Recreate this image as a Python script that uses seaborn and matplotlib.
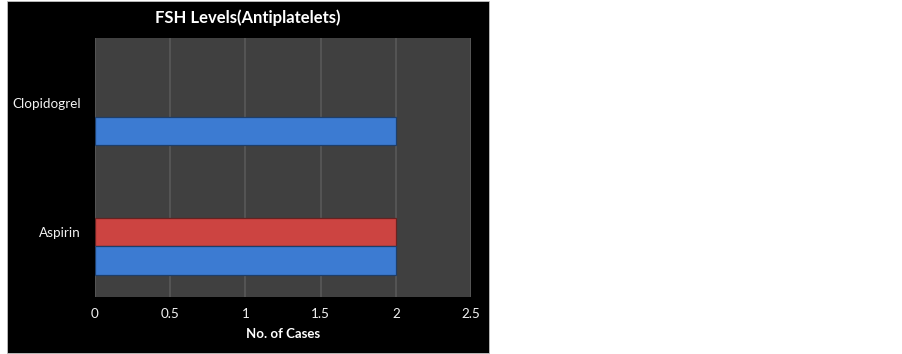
"""
FSH levels (antiplatelets) — horizontal grouped bar chart on a dark panel.
"""

import matplotlib
matplotlib.use("Agg")

import matplotlib.pyplot as plt
import pandas as pd
import seaborn as sns
from matplotlib.patches import Rectangle

# ---- data -----------------------------------------------------------------
drugs = ["Clopidogrel", "Aspirin"]
levels = ["High", "Low", "Normal"]          # top -> bottom inside each group
cases_high = [0, 0]
cases_low = [0, 2]
cases_normal = [2, 2]
x_ticks = [0, 0.5, 1, 1.5, 2, 2.5]
x_tick_labels = ["0", "0.5", "1", "1.5", "2", "2.5"]

level_colors = {"High": "#9bbb59", "Low": "#cc4441", "Normal": "#3c7bd2"}

df = pd.DataFrame({
    "drug": drugs * 3,
    "level": ["High"] * 2 + ["Low"] * 2 + ["Normal"] * 2,
    "cases": cases_high + cases_low + cases_normal,
})

# ---- style ----------------------------------------------------------------
sns.set_theme(style="dark")
plt.rcParams["font.family"] = ["Lato", "DejaVu Sans"]

fig = plt.figure(figsize=(9.03, 3.54), dpi=100)
fig.patch.set_facecolor("white")

# black chart panel on the left part of the image
fig.add_artist(Rectangle((7 / 903, 1 / 354), 482 / 903, 352 / 354,
                         transform=fig.transFigure, facecolor="black",
                         edgecolor="#bfbfbf", linewidth=0.6, zorder=0))

ax = fig.add_axes([95 / 903, 1 - 297 / 354, 376 / 903, 259 / 354])
ax.set_facecolor("#404040")

sns.barplot(
    data=df, x="cases", y="drug", hue="level",
    order=drugs, hue_order=levels, palette=level_colors,
    orient="h", width=0.66, gap=0, saturation=1, legend=False,
    edgecolor="#1f3f66", linewidth=0.9, ax=ax,
)

# drop zero-length bars and give edges a darker shade of their fill
for p in ax.patches:
    if p.get_width() == 0:
        p.set_visible(False)
    else:
        r, g, b, _ = p.get_facecolor()
        p.set_edgecolor((r * 0.5, g * 0.5, b * 0.5, 1))

ax.set_xlim(0, 2.5)
ax.set_xticks(x_ticks)
ax.set_xticklabels(x_tick_labels)
ax.grid(axis="x", color="#575757", linewidth=1.3)
ax.grid(axis="y", visible=False)
ax.set_axisbelow(True)
for s in ax.spines.values():
    s.set_visible(False)

ax.tick_params(axis="both", colors="#f2f2f2", labelsize=9.7, length=0)
ax.tick_params(axis="x", pad=8)
ax.tick_params(axis="y", pad=10)
ax.set_ylabel("")
ax.set_xlabel("No. of Cases", color="white", fontsize=9.5,
              fontweight="bold", labelpad=6)

fig.text(248 / 903, 1 - 18 / 354, "FSH Levels(Antiplatelets)",
         ha="center", va="center", color="white",
         fontsize=12, fontweight="bold")

fig.savefig("out.png", dpi=100, facecolor=fig.get_facecolor())
